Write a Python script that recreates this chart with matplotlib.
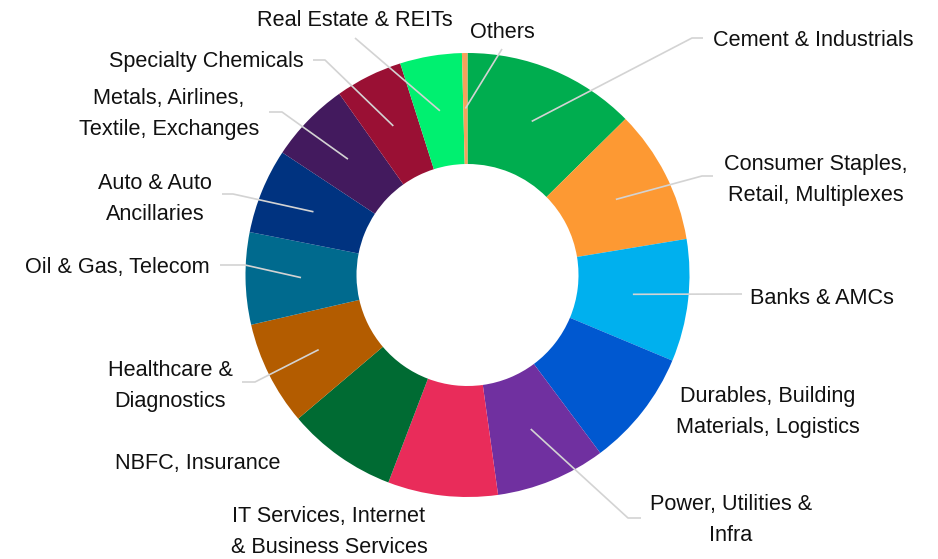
import numpy as np
import matplotlib.pyplot as plt
from matplotlib import font_manager

# Sector weights (%), clockwise from 12 o'clock
sectors = [
    "Cement & Industrials",
    "Consumer Staples,\nRetail, Multiplexes",
    "Banks & AMCs",
    "Durables, Building\nMaterials, Logistics",
    "Power, Utilities &\nInfra",
    "IT Services, Internet\n& Business Services",
    "NBFC, Insurance",
    "Healthcare &\nDiagnostics",
    "Oil & Gas, Telecom",
    "Auto & Auto\nAncillaries",
    "Metals, Airlines,\nTextile, Exchanges",
    "Specialty Chemicals",
    "Real Estate & REITs",
    "Others",
]
weights = [12.6, 9.8, 8.9, 8.5, 8.0, 8.0, 8.0, 7.6, 6.7, 6.2, 5.9, 4.9, 4.5, 0.4]
colors = [
    "#00AD4F", "#FD9933", "#00B0EE", "#0058D0", "#7030A0", "#E92C5A", "#006B33",
    "#B35C00", "#006A8E", "#003380", "#431A5E", "#9A1034", "#00F070", "#F5A25C",
]

# label placement (text centre) and leader-line elbow, in pixel coords
label_pos = [
    (813, 40), (816, 180), (822, 298), (768, 412), (731, 520), (329, 532),
    (198, 463), (170, 386), (117, 268), (155, 199), (169, 114), (206, 62),
    (355, 21), (502, 32),
]
elbows = [
    [(692, 38), (703, 38)],
    [(702, 176), (713, 176)],
    [(742, 294)],
    None,
    [(628, 518), (641, 518)],
    None,
    None,
    [(255, 382), (242, 382)],
    [(245, 265), (220, 265)],
    [(233, 194), (222, 194)],
    [(282, 112), (269, 112)],
    [(325, 60), (313, 60)],
    [(355, 38)],
    [(502, 49)],
]

W, H = 938, 559
cx, cy, R = 467.5, 275, 222

names = {f.name for f in font_manager.fontManager.ttflist}
if "Liberation Sans Narrow" in names:
    font_family, font_size, line_sp = "Liberation Sans Narrow", 19, 1.2
else:
    font_family, font_size, line_sp = "Liberation Sans", 15.6, 1.6

fig = plt.figure(figsize=(W / 100, H / 100), dpi=100)
ax = fig.add_axes([0, 0, 1, 1])

# y axis runs downward, so startangle -90 is the top and counterclock=True
# turns clockwise on screen
ax.pie(weights, colors=colors, startangle=-90, counterclock=True,
       center=(cx, cy), radius=R,
       wedgeprops=dict(width=R * 0.5, linewidth=0))

ax.set_xlim(0, W)
ax.set_ylim(H, 0)
ax.set_aspect("equal")
ax.axis("off")

# leader lines start in the middle of the ring at each slice's mid-angle
bounds = np.concatenate([[0], np.cumsum(weights)]) / np.sum(weights) * 360
mids = np.deg2rad((bounds[:-1] + bounds[1:]) / 2)
r_mid = R * 0.75
for i, name in enumerate(sectors):
    if elbows[i] is not None:
        x0 = cx + r_mid * np.sin(mids[i])
        y0 = cy - r_mid * np.cos(mids[i])
        pts = [(x0, y0)] + elbows[i]
        xs, ys = zip(*pts)
        ax.plot(xs, ys, color="#D3D3D3", lw=1.2, solid_capstyle="butt", zorder=3)
    tx, ty = label_pos[i]
    ax.text(tx, ty, name, ha="center", va="center", multialignment="center",
            fontsize=font_size, family=font_family, color="#111111",
            linespacing=line_sp)

fig.savefig("out.png", dpi=100)
